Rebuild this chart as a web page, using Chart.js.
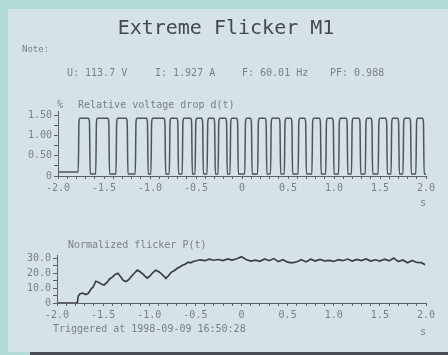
<!DOCTYPE html>
<html>
<head>
<meta charset="utf-8">
<script src="https://cdn.jsdelivr.net/npm/chart.js@4.4.1/dist/chart.umd.min.js"></script>
<style>
html,body{margin:0;padding:0;}
body{width:448px;height:355px;position:relative;overflow:hidden;background:#b2dcd8;font-family:"DejaVu Sans Mono",monospace;}
#panel{position:absolute;left:8px;top:9px;width:440px;height:343px;background:#d5e2e9;}
#bar{position:absolute;left:30px;top:352px;width:418px;height:3px;background:#474c52;}
canvas{position:absolute;left:0;top:0;}
.t{position:absolute;white-space:nowrap;color:#7a7f84;font-size:10px;line-height:10px;}
#title{position:absolute;left:226px;top:27px;transform:translate(-50%,-50%);font-size:20px;color:#45484c;white-space:nowrap;}
</style>
</head>
<body>
<div id="panel"></div>
<div id="bar"></div>
<canvas id="c1" width="448" height="355"></canvas>
<canvas id="c2" width="448" height="355"></canvas>
<div id="title">Extreme Flicker M1</div>
<div class="t" style="left:22px;top:44px;font-size:9px;">Note:</div>
<div class="t" style="left:67px;top:68px;">U: 113.7 V</div>
<div class="t" style="left:155px;top:68px;">I: 1.927 A</div>
<div class="t" style="left:242px;top:68px;">F: 60.01 Hz</div>
<div class="t" style="left:330px;top:68px;">PF: 0.988</div>
<div class="t" style="left:57px;top:100px;">%</div>
<div class="t" style="left:78px;top:100px;">Relative voltage drop d(t)</div>
<div class="t" style="left:420px;top:198px;">s</div>
<div class="t" style="left:68px;top:240px;">Normalized flicker P(t)</div>
<div class="t" style="left:53px;top:324px;">Triggered at 1998-09-09 16:50:28</div>
<div class="t" style="left:420px;top:327px;">s</div>
<script>
// ---- data ----
const xTickValues = [-2.0, -1.5, -1.0, -0.5, 0, 0.5, 1.0, 1.5, 2.0];
const xTickLabels = ["-2.0", "-1.5", "-1.0", "-0.5", "0", "0.5", "1.0", "1.5", "2.0"];
const dTickValues = [0, 0.5, 1.0, 1.5];
const dTickLabels = ["0", "0.50", "1.00", "1.50"];
const pTickValues = [0, 10, 20, 30];
const pTickLabels = ["0", "10.0", "20.0", "30.0"];

// relative voltage drop d(t): pulse rise / fall times (s) and levels (%)
const pulseRise = [-1.78, -1.59, -1.37, -1.16, -0.99, -0.79, -0.65, -0.51, -0.38, -0.26, -0.13, 0.03, 0.17, 0.31, 0.46, 0.61, 0.76, 0.91, 1.05, 1.19, 1.34, 1.48, 1.62, 1.75, 1.89];
const pulseFall = [-1.65, -1.44, -1.24, -1.02, -0.83, -0.69, -0.54, -0.42, -0.29, -0.16, -0.04, 0.11, 0.27, 0.42, 0.55, 0.70, 0.86, 1.00, 1.15, 1.29, 1.42, 1.58, 1.71, 1.84, 1.98];
const pulseHigh = 1.42;
const pulseShoulder = 1.33;
const pulseLow = 0.05;
const preTriggerLevel = 0.1;

// normalized flicker P(t)
const pTime = [-2.00, -1.78, -1.77, -1.75, -1.72, -1.69, -1.66, -1.63, -1.61, -1.58, -1.55, -1.52, -1.49, -1.46, -1.43, -1.40, -1.37, -1.34, -1.31, -1.28, -1.25, -1.22, -1.19, -1.16, -1.13, -1.10, -1.07, -1.04, -1.02, -0.99, -0.96, -0.93, -0.90, -0.87, -0.84, -0.82, -0.79, -0.76, -0.73, -0.70, -0.67, -0.64, -0.61, -0.58, -0.55, -0.52,
  -0.50, -0.45, -0.40, -0.35, -0.30, -0.25, -0.20, -0.15, -0.10, -0.05, 0.00, 0.05, 0.10, 0.15, 0.20, 0.25, 0.30, 0.35, 0.40, 0.45, 0.50, 0.55, 0.60, 0.65, 0.70, 0.75, 0.80, 0.85, 0.90, 0.95, 1.00, 1.05, 1.10, 1.15, 1.20, 1.25, 1.30, 1.35, 1.40, 1.45, 1.50, 1.55, 1.60, 1.65, 1.70, 1.75, 1.80, 1.85, 1.90, 1.95, 1.99];
const pValue = [0, 0, 4.5, 6.2, 6.6, 5.6, 6.4, 9.5, 10.5, 14.5, 13.8, 12.6, 12.0, 13.5, 16.0, 17.2, 19.0, 19.8, 17.5, 15.0, 14.3, 15.8, 18.0, 20.0, 21.9, 20.8, 19.4, 17.5, 16.6, 18.2, 20.3, 21.9, 21.0, 19.6, 17.8, 16.4, 18.3, 20.6, 21.5, 23.0, 24.0, 25.2, 25.8, 27.2, 26.8, 27.8,
  28.0, 28.8, 28.2, 29.2, 28.5, 29.0, 28.3, 29.4, 28.6, 29.5, 30.8, 29.0, 27.9, 28.6, 27.8, 29.4, 28.2, 29.6, 27.6, 28.9, 27.2, 26.8, 27.5, 28.9, 27.4, 29.2, 27.9, 29.0, 28.1, 28.4, 27.7, 28.9, 28.2, 29.3, 28.0, 29.1, 28.3, 29.4, 28.0, 28.8, 27.9, 29.2, 28.1, 30.0, 27.6, 28.7, 26.8, 28.3, 27.0, 26.9, 25.5];

// ---- build library structures ----
const dPoints = [{x: -2.0, y: preTriggerLevel}];
pulseRise.forEach((r, i) => {
  const f = pulseFall[i];
  dPoints.push({x: r, y: i === 0 ? preTriggerLevel : pulseLow});
  dPoints.push({x: r + 0.008, y: pulseShoulder});
  dPoints.push({x: r + 0.02, y: pulseHigh});
  dPoints.push({x: f - 0.02, y: pulseHigh});
  dPoints.push({x: f - 0.008, y: pulseShoulder});
  dPoints.push({x: f, y: pulseLow});
});
dPoints.push({x: 2.0, y: pulseLow});
const pPoints = pTime.map((t, i) => ({x: t, y: pValue[i]}));

const xMinor = [];
for (let k = -20; k <= 20; k++) xMinor.push(k / 10);

const tickFont = {family: "DejaVu Sans Mono", size: 10};
const axisCol = '#5d6166';
const labelCol = '#7a7f84';

function xScale() {
  return {
    type: 'linear', min: -2, max: 2,
    afterBuildTicks: s => { s.ticks = xMinor.map(v => ({value: v})); },
    afterFit: s => { s.height = 22; },
    ticks: {
      autoSkip: false, maxRotation: 0, color: labelCol, font: tickFont, padding: 3,
      callback: v => { const i = xTickValues.findIndex(t => Math.abs(t - v) < 1e-6); return i >= 0 ? xTickLabels[i] : ''; }
    },
    grid: {display: true, drawOnChartArea: false, drawTicks: true, tickLength: 3, color: axisCol},
    border: {display: true, color: axisCol, width: 1}
  };
}
function yScale(min, max, vals, labels, minor) {
  return {
    type: 'linear', min: min, max: max,
    afterBuildTicks: s => { s.ticks = minor.map(v => ({value: v})); },
    afterFit: s => { s.width = 40; },
    ticks: {
      autoSkip: false, color: labelCol, font: tickFont, padding: 2,
      callback: v => { const i = vals.findIndex(t => Math.abs(t - v) < 1e-6); return i >= 0 ? labels[i] : ''; }
    },
    grid: {display: true, drawOnChartArea: false, drawTicks: true, tickLength: 4, color: axisCol},
    border: {display: true, color: axisCol, width: 1}
  };
}
const common = {
  responsive: false, animation: false, devicePixelRatio: 1,
  plugins: {legend: {display: false}, tooltip: {enabled: false}},
  elements: {point: {radius: 0}}
};

new Chart(document.getElementById('c1'), {
  type: 'line',
  data: {datasets: [{data: dPoints, borderColor: '#505459', borderWidth: 1.5, cubicInterpolationMode: 'monotone', fill: false}]},
  options: Object.assign({}, common, {
    layout: {padding: {left: 18, right: 22, top: 111, bottom: 157}},
    scales: {
      x: xScale(),
      y: yScale(0, 1.6, dTickValues, dTickLabels, [0, 0.25, 0.5, 0.75, 1.0, 1.25, 1.5])
    }
  })
});

new Chart(document.getElementById('c2'), {
  type: 'line',
  data: {datasets: [{data: pPoints, borderColor: '#3b3e42', borderWidth: 1.7, tension: 0, fill: false}]},
  options: Object.assign({}, common, {
    layout: {padding: {left: 17, right: 22, top: 255, bottom: 30}},
    scales: {
      x: xScale(),
      y: yScale(0, 32, pTickValues, pTickLabels, [0, 5, 10, 15, 20, 25, 30])
    }
  })
});
</script>
</body>
</html>
